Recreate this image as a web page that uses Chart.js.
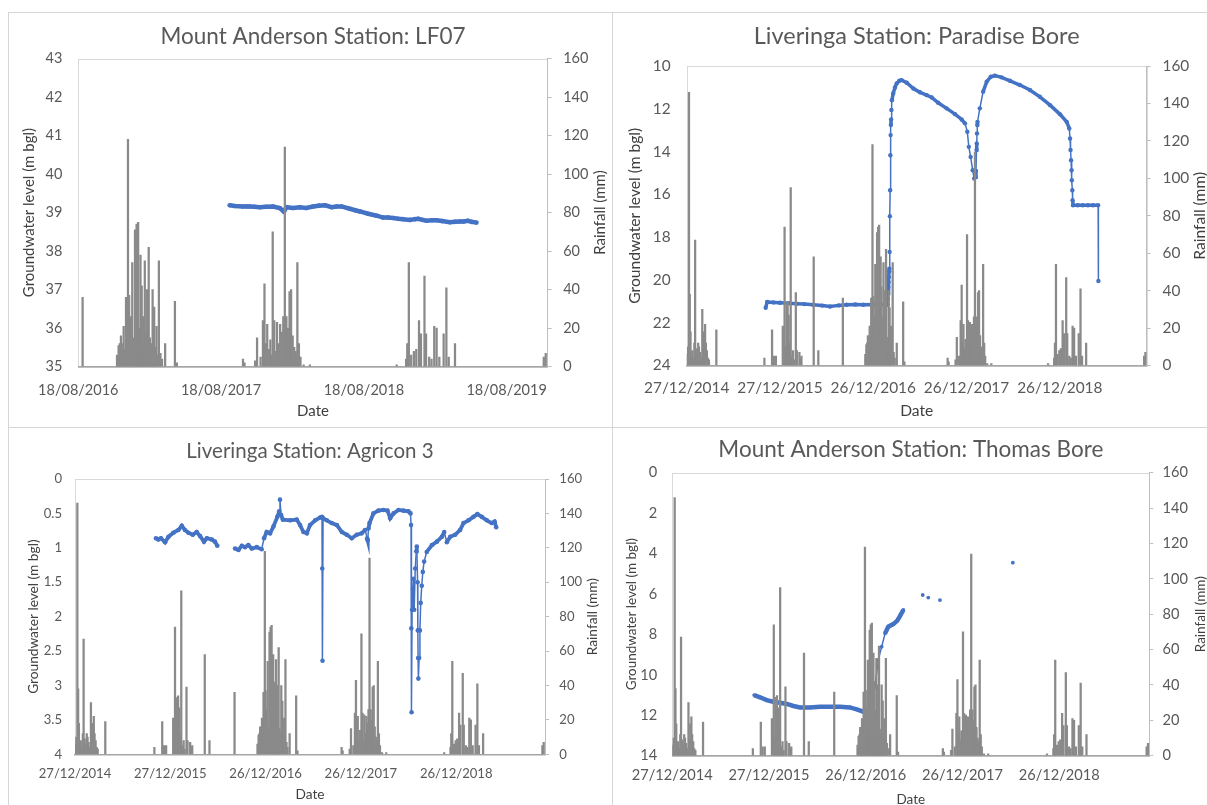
<!DOCTYPE html>
<html>
<head>
<meta charset="utf-8">
<title>Groundwater level and rainfall</title>
<script src="https://cdn.jsdelivr.net/npm/chart.js@4.4.1/dist/chart.umd.min.js"></script>
<style>
  html, body { margin: 0; padding: 0; width: 1207px; height: 805px; overflow: hidden; background: #ffffff; }
  .rule { position: absolute; background: #d6d6d6; }
  .panel { position: absolute; overflow: hidden; }
  .panel canvas { display: block; }
</style>
</head>
<body>
<div class="rule" style="left:8px;top:12px;width:1199px;height:1px"></div>
<div class="rule" style="left:8px;top:12px;width:1px;height:793px"></div>
<div class="rule" style="left:612px;top:12px;width:1px;height:793px"></div>
<div class="rule" style="left:8px;top:427px;width:1199px;height:1px"></div>

<div class="panel" style="left:9px;top:13px;width:603px;height:414px"><canvas id="c1" width="603" height="414"></canvas></div>
<div class="panel" style="left:613px;top:13px;width:594px;height:414px"><canvas id="c2" width="600" height="414"></canvas></div>
<div class="panel" style="left:9px;top:428px;width:603px;height:377px"><canvas id="c3" width="603" height="377"></canvas></div>
<div class="panel" style="left:613px;top:428px;width:594px;height:377px"><canvas id="c4" width="600" height="385"></canvas></div>

<script>
// Dates are spreadsheet serial day numbers (42000 = 27/12/2014).

// Daily rainfall (mm): [date, rainfall]
const rainfall = [
  [42002, 6], [42005, 10], [42009, 146], [42012, 38], [42015, 18], [42019, 5], [42022, 8], [42026, 4],
  [42030, 12], [42033, 67], [42037, 9], [42041, 6], [42045, 12], [42048, 10], [42052, 7], [42056, 4],
  [42061, 30], [42064, 9], [42068, 18], [42072, 22], [42075, 12], [42079, 8], [42083, 4], [42087, 3],
  [42116, 19],
  [42304, 4], [42334, 19], [42341, 5], [42349, 5], [42376, 21], [42383, 74], [42388, 10], [42391, 33],
  [42395, 34], [42399, 27], [42403, 12], [42407, 95], [42411, 5], [42416, 8], [42420, 3], [42427, 39],
  [42431, 8], [42441, 7], [42445, 4], [42449, 5], [42497, 58], [42515, 8], [42611, 36],
  [42699, 6], [42701, 4], [42703, 11], [42706, 12], [42709, 16], [42712, 12], [42714, 8], [42716, 21],
  [42719, 9], [42722, 36], [42724, 14], [42727, 118], [42730, 37], [42734, 26], [42736, 10], [42738, 54],
  [42742, 15], [42745, 71], [42747, 20], [42749, 74], [42751, 12], [42753, 75], [42756, 20], [42759, 58],
  [42762, 42], [42764, 10], [42766, 26], [42768, 14], [42770, 55], [42773, 18], [42776, 40], [42778, 8],
  [42780, 62], [42783, 15], [42786, 12], [42788, 6], [42790, 40], [42792, 9], [42794, 31], [42797, 10],
  [42800, 21], [42802, 6], [42806, 55], [42810, 7], [42814, 4], [42822, 12], [42847, 34], [42852, 2],
  [43021, 4], [43025, 2], [43052, 3], [43057, 15], [43066, 5], [43072, 24], [43076, 43], [43079, 12],
  [43083, 22], [43087, 9], [43091, 14], [43094, 6], [43097, 70], [43101, 24], [43104, 8], [43108, 23],
  [43112, 12], [43116, 22], [43120, 18], [43124, 26], [43128, 114], [43132, 26], [43136, 20], [43140, 39],
  [43144, 40], [43148, 16], [43152, 10], [43156, 8], [43160, 54], [43164, 12], [43168, 5], [43176, 1],
  [43192, 1],
  [43414, 1], [43438, 4], [43441, 12], [43445, 54], [43451, 6], [43458, 8], [43464, 9], [43471, 24],
  [43476, 17], [43485, 47], [43489, 17], [43497, 5], [43503, 4], [43510, 21], [43516, 20], [43523, 5],
  [43534, 17], [43541, 41], [43547, 5], [43563, 12],
  [43790, 5], [43795, 7]
];

// Groundwater level (m bgl): [date, level]; null marks a break in the record
const lf07 = [
  [42987, 39.19], [43000, 39.17], [43020, 39.16], [43030, 39.16], [43038, 39.16], [43050, 39.15],
  [43064, 39.14], [43080, 39.15], [43098, 39.16], [43115, 39.12], [43125, 39.03], [43127, 39.05],
  [43132, 39.14], [43149, 39.12], [43166, 39.14], [43183, 39.12], [43200, 39.16], [43215, 39.18],
  [43231, 39.19], [43248, 39.14], [43260, 39.16], [43273, 39.16], [43294, 39.10], [43308, 39.06],
  [43320, 39.03], [43341, 38.97], [43363, 38.92], [43379, 38.87], [43392, 38.87], [43405, 38.86],
  [43418, 38.84], [43430, 38.83], [43448, 38.81], [43460, 38.83], [43469, 38.84], [43480, 38.81],
  [43490, 38.79], [43505, 38.80], [43516, 38.80], [43530, 38.78], [43550, 38.75], [43563, 38.76],
  [43575, 38.77], [43585, 38.77], [43596, 38.79], [43605, 38.76], [43618, 38.74]
];

const paradiseBore = [
  [42309, 21.30], [42315, 21.03], [42340, 21.05], [42365, 21.07], [42400, 21.09], [42430, 21.11],
  [42460, 21.13], [42495, 21.16], [42530, 21.20], [42561, 21.24], [42595, 21.19], [42626, 21.16],
  [42660, 21.15], [42691, 21.16], [42740, 21.15], [42782, 21.16], [42786, 21.16], [42787, 20.90],
  [42788, 20.64], [42789, 20.33], [42790, 20.10], [42791, 19.86], [42792, 19.60], [42793, 19.47],
  [42794, 18.69], [42795, 17.02], [42796, 15.81], [42797, 14.17], [42798, 13.23], [42799, 12.76],
  [42800, 12.50], [42801, 12.06], [42803, 11.60], [42808, 11.28], [42815, 11.00], [42822, 10.81],
  [42832, 10.69], [42841, 10.66], [42861, 10.78], [42887, 11.05], [42913, 11.23], [42939, 11.36],
  [42959, 11.47], [42984, 11.72], [43017, 11.98], [43050, 12.25], [43076, 12.50], [43089, 12.68],
  [43098, 13.07], [43104, 13.78], [43111, 14.25], [43119, 14.87], [43125, 15.26], [43130, 15.20],
  [43132, 14.90], [43134, 13.93], [43135, 13.62], [43136, 13.15], [43137, 12.76], [43138, 12.61],
  [43147, 11.98], [43160, 11.20], [43174, 10.73], [43190, 10.50], [43206, 10.45], [43232, 10.53],
  [43265, 10.69], [43304, 10.89], [43343, 11.12], [43382, 11.44], [43422, 11.83], [43461, 12.26],
  [43487, 12.61], [43497, 12.92], [43500, 13.39], [43502, 13.93], [43504, 14.40], [43506, 14.87],
  [43507, 15.34], [43509, 15.81], [43510, 16.27], [43512, 16.51], [43530, 16.51], [43550, 16.51],
  [43570, 16.51], [43590, 16.51], [43610, 16.51], [43611, 20.05]
];

const agricon3 = [
  [42310, 0.86], [42319, 0.88], [42329, 0.86], [42345, 0.92], [42358, 0.84], [42377, 0.78],
  [42396, 0.74], [42409, 0.68], [42421, 0.74], [42434, 0.78], [42451, 0.81], [42466, 0.77],
  [42479, 0.83], [42494, 0.91], [42505, 0.86], [42524, 0.88], [42536, 0.91], [42545, 0.97],
  [42580, null],
  [42613, 1.01], [42626, 1.03], [42639, 0.97], [42651, 0.99], [42664, 0.96], [42677, 1.01],
  [42696, 0.99], [42715, 1.02], [42724, 0.86], [42734, 0.77], [42747, 0.79], [42760, 0.69],
  [42775, 0.55], [42782, 0.47], [42785, 0.30], [42789, 0.52], [42796, 0.59], [42824, 0.60],
  [42849, 0.59], [42862, 0.67], [42875, 0.77], [42888, 0.79], [42900, 0.67], [42920, 0.60],
  [42939, 0.56], [42946, 0.55], [42947, 1.30], [42948, 2.64], [42950, 0.57], [42964, 0.60],
  [42983, 0.64], [43003, 0.67], [43022, 0.77], [43041, 0.81], [43060, 0.86], [43079, 0.81],
  [43098, 0.79], [43111, 0.74], [43119, 0.86], [43121, 0.89], [43124, 0.72], [43128, 0.64],
  [43143, 0.50], [43162, 0.46], [43181, 0.45], [43197, 0.46], [43207, 0.57], [43220, 0.50],
  [43239, 0.45], [43258, 0.46], [43277, 0.47], [43285, 0.50], [43287, 0.67], [43288, 2.17],
  [43289, 3.39], [43291, 1.90], [43294, 1.60], [43296, 1.45], [43299, 1.90], [43303, 1.30],
  [43307, 1.05], [43309, 0.98], [43312, 1.50], [43313, 2.20], [43314, 2.60], [43315, 2.90],
  [43318, 2.60], [43321, 2.20], [43324, 1.80], [43328, 1.55], [43332, 1.35], [43337, 1.20],
  [43347, 1.06], [43367, 0.96], [43386, 0.91], [43405, 0.84], [43414, 0.77], [43424, 0.92],
  [43437, 0.84], [43456, 0.81], [43475, 0.74], [43488, 0.64], [43507, 0.60], [43526, 0.55],
  [43541, 0.51], [43558, 0.55], [43577, 0.60], [43596, 0.64], [43607, 0.62], [43613, 0.70]
];

const thomasBore = [
  [42309, 11.00], [42331, 11.11], [42356, 11.25], [42381, 11.33], [42406, 11.38], [42432, 11.44],
  [42457, 11.54], [42482, 11.61], [42520, 11.61], [42557, 11.58], [42595, 11.58], [42633, 11.58],
  [42670, 11.61], [42696, 11.71], [42721, 11.82], [42736, 11.82], [42752, 11.41], [42765, 10.59],
  [42777, 9.27], [42790, 8.61], [42803, 7.95], [42815, 7.62], [42834, 7.49], [42849, 7.32],
  [42859, 7.09], [42872, 6.79],
  [42900, null], [42945, 6.05], [42955, null], [42966, 6.18], [42990, null], [43010, 6.30],
  [43100, null], [43285, 4.45]
];

// Axis ticks
const dateTicksLF07 = [42600, 42965, 43330, 43695];
const dateTicksLiveringa = [42000, 42365, 42730, 43095, 43460];
const levelTicksLF07 = [35, 36, 37, 38, 39, 40, 41, 42, 43];
const levelTicksParadise = [10, 12, 14, 16, 18, 20, 22, 24];
const levelTicksAgricon = [0, 0.5, 1, 1.5, 2, 2.5, 3, 3.5, 4];
const levelTicksThomas = [0, 2, 4, 6, 8, 10, 12, 14];
const rainTicks = [0, 20, 40, 60, 80, 100, 120, 140, 160];

const FONT = 'Lato, "Open Sans", sans-serif';
const BLUE = '#4472C4';
const TEXT = '#595959';

function serialToLabel(s) {
  const d = new Date(Date.UTC(1899, 11, 30) + s * 86400000);
  const p = n => String(n).padStart(2, '0');
  return p(d.getUTCDate()) + '/' + p(d.getUTCMonth() + 1) + '/' + d.getUTCFullYear();
}

// light border round the plot area, drawn underneath the axes
const plotFrame = {
  id: 'plotFrame',
  beforeDraw(chart) {
    const { ctx, chartArea: a } = chart;
    ctx.save();
    ctx.strokeStyle = '#d9d9d9';
    ctx.lineWidth = 1;
    ctx.strokeRect(Math.round(a.left) + 0.5, Math.round(a.top) + 0.5, Math.round(a.width), Math.round(a.height));
    ctx.restore();
  }
};

// secondary axis title, reading bottom to top
const rainTitle = {
  id: 'rainTitle',
  afterDraw(chart, args, opts) {
    const { ctx, chartArea: a } = chart;
    ctx.save();
    ctx.translate(opts.x, (a.top + a.bottom) / 2);
    ctx.rotate(-Math.PI / 2);
    ctx.font = opts.size + 'px ' + FONT;
    ctx.fillStyle = opts.color;
    ctx.textAlign = 'center';
    ctx.textBaseline = 'middle';
    ctx.fillText(opts.text, 0, 0);
    ctx.restore();
  }
};

function steepWidth(thick, thin) {
  return ctx => {
    const dx = Math.abs(ctx.p1.x - ctx.p0.x);
    const dy = Math.abs(ctx.p1.y - ctx.p0.y);
    return (dy > 8 && dy > 3 * dx) ? thin : thick;
  };
}

function drawPanel(c) {
  const rain = rainfall.filter(r => r[0] >= c.xMin && r[0] <= c.xMax).map(r => ({ x: r[0], y: r[1] }));
  const level = c.level.map(r => ({ x: r[0], y: r[1] }));
  new Chart(document.getElementById(c.id), {
    type: 'bar',
    data: {
      datasets: [
        {
          type: 'bar', label: 'Rainfall (mm)', data: rain, yAxisID: 'y2', xAxisID: 'x',
          backgroundColor: '#8a8a8a', borderWidth: 0, barThickness: 1.6, grouped: false, order: 0
        },
        {
          type: 'line', label: 'Groundwater level (m bgl)', data: level, yAxisID: 'y', xAxisID: 'x',
          borderColor: BLUE, backgroundColor: BLUE, borderWidth: c.lineWidth,
          pointRadius: c.pointRadius, pointBorderWidth: 0, pointBackgroundColor: BLUE,
          tension: 0, spanGaps: false, order: 1,
          segment: { borderWidth: steepWidth(c.lineWidth, 1.5) }
        }
      ]
    },
    options: {
      responsive: false,
      animation: false,
      devicePixelRatio: 1,
      events: [],
      layout: { padding: 0 },
      plugins: {
        legend: { display: false },
        tooltip: { enabled: false },
        title: {
          display: true, text: c.title, fullSize: false, color: TEXT,
          font: { family: FONT, size: c.titleSize, weight: 'normal' },
          padding: c.titlePad
        },
        rainTitle: { text: 'Rainfall (mm)', x: c.rainTitleX, size: c.axisSize, color: '#404040' }
      },
      scales: {
        x: {
          type: 'linear', position: 'bottom', min: c.xMin, max: c.xMax, offset: false,
          afterBuildTicks: s => { s.ticks = c.xTicks.map(v => ({ value: v })); },
          afterFit: s => { s.height = c.xH; },
          ticks: {
            callback: v => serialToLabel(v), color: TEXT, padding: c.xTickPad,
            font: { family: FONT, size: c.tickSize }, maxRotation: 0, minRotation: 0, autoSkip: false
          },
          grid: { display: false, drawTicks: false },
          border: { display: true, color: '#a6a6a6', width: 1.5 },
          title: {
            display: true, text: 'Date', color: '#404040',
            font: { family: FONT, size: c.axisSize }, padding: { top: 0, bottom: c.datePad }
          }
        },
        y: {
          type: 'linear', position: 'left', min: c.yMin, max: c.yMax, reverse: c.reverse,
          afterBuildTicks: s => { s.ticks = c.yTicks.map(v => ({ value: v })); },
          afterFit: s => { s.width = c.L; },
          ticks: {
            callback: v => String(v), color: TEXT, padding: c.yTickPad,
            font: { family: FONT, size: c.tickSize }
          },
          grid: { display: false, drawTicks: false },
          border: { display: false },
          title: {
            display: true, text: 'Groundwater level (m bgl)', color: '#404040',
            font: { family: FONT, size: c.axisSize }, padding: { top: c.leftTitlePad, bottom: 0 }
          }
        },
        y2: {
          type: 'linear', position: 'right', min: 0, max: 160,
          afterBuildTicks: s => { s.ticks = rainTicks.map(v => ({ value: v })); },
          afterFit: s => { s.width = c.R; },
          ticks: {
            callback: v => String(v), color: TEXT, padding: c.y2TickPad,
            font: { family: FONT, size: c.tickSize }
          },
          grid: { display: true, drawOnChartArea: false, drawTicks: true, tickLength: 4, color: '#bfbfbf' },
          border: { display: true, color: '#bfbfbf', width: 1 },
          title: { display: false }
        }
      }
    },
    plugins: [plotFrame, rainTitle]
  });
}

drawPanel({
  id: 'c1', title: 'Mount Anderson Station: LF07', level: lf07,
  xMin: 42600, xMax: 43800, xTicks: dateTicksLF07,
  yMin: 35, yMax: 43, yTicks: levelTicksLF07, reverse: false,
  L: 69.3, R: 64.3, xH: 60.3,
  titleSize: 22.5, titlePad: { top: 10.5, bottom: 8 },
  tickSize: 14.5, axisSize: 15, xTickPad: 14.6, datePad: 7, leftTitlePad: 11, rainTitleX: 591,
  yTickPad: 16, y2TickPad: 11.5, lineWidth: 4.5, pointRadius: 2.3
});

drawPanel({
  id: 'c2', title: 'Liveringa Station: Paradise Bore', level: paradiseBore,
  xMin: 42000, xMax: 43800, xTicks: dateTicksLiveringa,
  yMin: 10, yMax: 24, yTicks: levelTicksParadise, reverse: true,
  L: 73.7, R: 66.3, xH: 61.5,
  titleSize: 23.5, titlePad: { top: 9.6, bottom: 15.2 },
  tickSize: 15.4, axisSize: 15.6, xTickPad: 13.2, datePad: 6.6, leftTitlePad: 12.4, rainTitleX: 587,
  yTickPad: 16, y2TickPad: 11.8, lineWidth: 3.5, pointRadius: 2.2
});

drawPanel({
  id: 'c3', title: 'Liveringa Station: Agricon 3', level: agricon3,
  xMin: 42000, xMax: 43800, xTicks: dateTicksLiveringa,
  yMin: 0, yMax: 4, yTicks: levelTicksAgricon, reverse: true,
  L: 66, R: 67, xH: 50.7,
  titleSize: 20.5, titlePad: { top: 10.7, bottom: 15.7 },
  tickSize: 13.1, axisSize: 13.7, xTickPad: 11.8, datePad: 1.8, leftTitlePad: 16.8, rainTitleX: 584,
  yTickPad: 13, y2TickPad: 10.3, lineWidth: 3.8, pointRadius: 2.3
});

drawPanel({
  id: 'c4', title: 'Mount Anderson Station: Thomas Bore', level: thomasBore,
  xMin: 42000, xMax: 43800, xTicks: dateTicksLiveringa,
  yMin: 0, yMax: 14, yTicks: levelTicksThomas, reverse: true,
  L: 59.3, R: 63.7, xH: 57.3,
  titleSize: 22.5, titlePad: { top: 8.5, bottom: 9.2 },
  tickSize: 14.6, axisSize: 13.5, xTickPad: 10.5, datePad: 4.9, leftTitlePad: 10.9, rainTitleX: 588,
  yTickPad: 15, y2TickPad: 9.2, lineWidth: 4.5, pointRadius: 1.9
});
</script>
</body>
</html>
